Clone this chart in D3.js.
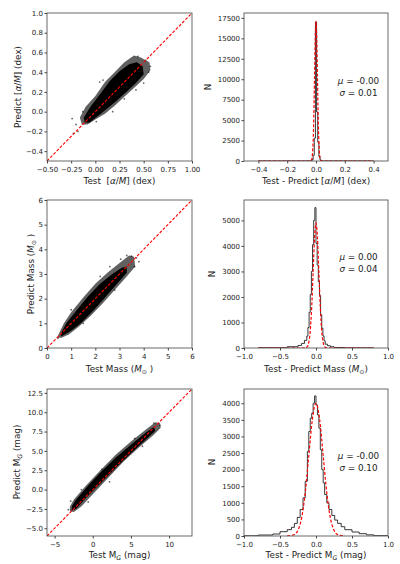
<!DOCTYPE html>
<head>
<meta charset="utf-8">
<style>
body { margin: 0; background: #fff; }
svg text { font-family: "DejaVu Sans", sans-serif; fill: #222; }
.tick text { font-size: 7px; }
.lab { font-size: 8.8px; }
</style>
</head>
<body>
<script src="https://cdn.jsdelivr.net/npm/d3@7/dist/d3.min.js"></script>
<script>

// ---- data ----

// [alpha/M] scatter: outline of the cloud, its dense core, and loose points
var alphaHalo = [[-0.16,-0.06],[-0.1,0.05],[0,0.16],[0.1,0.3],[0.2,0.4],[0.3,0.5],[0.4,0.57],[0.47,0.55],[0.56,0.5],
                 [0.57,0.42],[0.5,0.33],[0.4,0.24],[0.3,0.15],[0.2,0.06],[0.1,-0.02],[0,-0.08],[-0.08,-0.13],[-0.14,-0.13]];
var alphaCore = [[-0.12,-0.06],[-0.05,0.05],[0.05,0.18],[0.15,0.31],[0.25,0.41],[0.35,0.48],[0.43,0.5],[0.49,0.46],
                 [0.5,0.38],[0.42,0.29],[0.32,0.2],[0.22,0.11],[0.12,0.03],[0.02,-0.05],[-0.06,-0.11],[-0.11,-0.11]];
var alphaOut = [[-0.24,-0.07],[-0.226,-0.22],[-0.18,-0.2],[-0.2,-0.13],[0.01,-0.1],[0.18,0.0],[0.045,0.3],[0.08,0.32],
                [0.44,0.56],[0.57,0.46],[0.5,0.29],[0.52,0.52],[0.3,0.13],[-0.13,0.0],[0.42,0.22],[0.55,0.4]];
// [alpha/M] residual histogram (step) and gaussian fit
var alphaEdges = [-0.4,-0.036,-0.028,-0.02,-0.012,-0.004,0.004,0.012,0.02,0.028,0.036,0.044,0.4];
var alphaCounts = [3,40,150,700,2800,17000,6000,2300,550,120,30,3];
var alphaFitX = [-0.4,-0.04,-0.03,-0.02,-0.015,-0.01,-0.005,0,0.005,0.01,0.015,0.02,0.03,0.04,0.4];
var alphaFitY = [0,2,190,2310,5540,10370,15090,17100,15090,10370,5540,2310,190,2,0];

// Mass scatter
var massHalo = [[0.45,0.5],[0.7,1.0],[1.0,1.45],[1.5,2.05],[2.0,2.6],[2.5,3.05],[3.0,3.45],[3.4,3.75],[3.6,3.7],
                [3.65,3.3],[3.3,2.9],[2.8,2.35],[2.3,1.8],[1.8,1.3],[1.3,0.85],[0.9,0.55],[0.6,0.42],[0.45,0.42]];
var massCore = [[0.55,0.55],[0.8,1.0],[1.2,1.5],[1.7,2.1],[2.2,2.6],[2.7,3.0],[3.1,3.25],[3.3,3.3],
                [3.3,3.05],[2.9,2.6],[2.4,2.05],[1.9,1.5],[1.4,1.0],[1.0,0.7],[0.6,0.48]];
var massOut = [[3.7,3.65],[3.5,3.72],[3.62,3.3],[3.8,3.5],[3.3,3.75],[2.2,2.9],[2.8,2.35],[1.0,1.55],[1.5,1.0],[0.45,0.4],[3.05,3.6],[2.6,3.3]];
var massEdges = [-0.8,-0.4,-0.25,-0.2,-0.16,-0.128,-0.112,-0.096,-0.08,-0.064,-0.048,-0.032,-0.016,0,0.016,0.032,0.048,0.064,0.08,0.096,0.112,0.128,0.16,0.2,0.25,0.4,0.8];
var massCounts = [10,50,100,180,300,470,800,1400,2100,3000,4050,5000,5500,4100,3250,2600,2050,1300,780,470,280,150,90,50,20,5];
var massFitX = [-0.8,-0.2,-0.15,-0.12,-0.1,-0.08,-0.06,-0.04,-0.02,0,0.02,0.04,0.06,0.08,0.1,0.12,0.15,0.2,0.8];
var massFitY = [0,0,3,54,215,663,1591,2972,4324,4900,4324,2972,1591,663,215,54,3,0,0];

// M_G scatter
var magHalo = [[-3.0,-2.2],[-2.5,-1.3],[-1.0,0.4],[1,2.5],[3,4.5],[5,6.2],[7,7.8],[8.2,8.7],[8.8,8.6],
               [8.9,8.0],[8,7.1],[6,5.4],[4,3.6],[2,1.5],[0,-0.6],[-1.5,-2.2],[-2.5,-2.9],[-3,-2.8]];
var magCore = [[-2.7,-2.1],[-2.2,-1.3],[-0.8,0.3],[1,2.2],[3,4.1],[5,5.8],[7,7.4],[8,8.1],
               [8.2,7.6],[7,6.5],[5,4.7],[3,2.8],[1,0.8],[-1,-1.2],[-2.2,-2.5],[-2.8,-2.7]];
var magOut = [[-3.2,-2.6],[-2.9,-1.5],[8.8,8.3],[8.0,8.6],[5.5,6.6],[6.5,5.6],[1.2,2.6],[2.2,1.0],[-1.5,0.0],[-0.6,-1.6]];
var magEdges = [-1.0,-0.8,-0.6,-0.5,-0.4,-0.34,-0.3,-0.26,-0.22,-0.18,-0.15,-0.12,-0.1,-0.08,-0.06,-0.04,-0.02,0,0.02,0.04,0.06,0.08,0.1,0.12,0.15,0.18,0.22,0.26,0.3,0.35,0.4,0.5,0.6,0.7,0.8,1.0];
var magCounts = [5,30,60,130,190,260,380,560,800,1150,1650,2550,3150,3550,3700,4000,4220,3950,3650,3250,2600,2000,1600,1250,1000,800,620,480,380,280,190,120,70,35,8];
var magFitX = [-0.4,-0.3,-0.25,-0.2,-0.15,-0.1,-0.05,0,0.05,0.1,0.15,0.2,0.25,0.3,0.4];
var magFitY = [1,45,175,540,1290,2420,3520,4000,3520,2420,1290,540,175,45,1];

// ticks
var alphaXTicks = [-0.5,-0.25,0,0.25,0.5,0.75,1.0], alphaYTicks = [-0.4,-0.2,0,0.2,0.4,0.6,0.8,1.0];
var alphaResXTicks = [-0.4,-0.2,0,0.2,0.4], alphaResYTicks = [0,2500,5000,7500,10000,12500,15000,17500];
var massTicks = [0,1,2,3,4,5,6];
var resXTicks = [-1,-0.5,0,0.5,1], massResYTicks = [0,1000,2000,3000,4000,5000];
var magXTicks = [-5,0,5,10], magYTicks = [-5,-2.5,0,2.5,5,7.5,10,12.5];
var magResYTicks = [0,500,1000,1500,2000,2500,3000,3500,4000];

// fit annotations
var fitMu = ["-0.00","0.00","-0.00"], fitSigma = ["0.01","0.04","0.10"];

// ---- drawing ----
var svg = d3.select("body").append("svg").attr("width", 400).attr("height", 564);
var clipN = 0;

function panel(box, xDom, yDom) {
  var x = d3.scaleLinear().domain(xDom).range([box[0], box[1]]);
  var y = d3.scaleLinear().domain(yDom).range([box[3], box[2]]);
  var id = "clip" + (clipN++);
  svg.append("clipPath").attr("id", id).append("rect")
      .attr("x", box[0]).attr("y", box[2]).attr("width", box[1] - box[0]).attr("height", box[3] - box[2]);
  var plot = svg.append("g").attr("clip-path", "url(#" + id + ")");
  return {x: x, y: y, box: box, plot: plot};
}

function axes(p, xt, xf, yt, yf) {
  svg.append("g").attr("transform", "translate(0," + p.box[3] + ")")
      .call(d3.axisBottom(p.x).tickValues(xt).tickFormat(d3.format(xf)).tickSize(2.5).tickPadding(3.2).tickSizeOuter(0))
      .call(function(g) { g.select(".domain").remove(); g.selectAll("line").attr("stroke", "#444"); });
  svg.append("g").attr("transform", "translate(" + p.box[0] + ",0)")
      .call(d3.axisLeft(p.y).tickValues(yt).tickFormat(d3.format(yf)).tickSize(2.5).tickPadding(1.5).tickSizeOuter(0))
      .call(function(g) { g.select(".domain").remove(); g.selectAll("line").attr("stroke", "#444"); });
  svg.append("rect").attr("x", p.box[0]).attr("y", p.box[2])
      .attr("width", p.box[1] - p.box[0]).attr("height", p.box[3] - p.box[2])
      .attr("fill", "none").attr("stroke", "#444").attr("stroke-width", 0.8);
}

function scatter(p, halo, core, out, dom) {
  var line = d3.line().x(function(d) { return p.x(d[0]); }).y(function(d) { return p.y(d[1]); })
      .curve(d3.curveLinearClosed);
  p.plot.append("path").attr("d", line(halo)).attr("fill", "#000").attr("fill-opacity", 0.62);
  p.plot.append("path").attr("d", line(core)).attr("fill", "#000");
  p.plot.selectAll(null).data(out).enter().append("circle")
      .attr("cx", function(d) { return p.x(d[0]); }).attr("cy", function(d) { return p.y(d[1]); })
      .attr("r", 0.9).attr("fill", "#000").attr("fill-opacity", 0.6);
  p.plot.append("path").attr("d", d3.line()([[p.x(dom[0]), p.y(dom[0])], [p.x(dom[1]), p.y(dom[1])]]))
      .attr("stroke", "red").attr("stroke-width", 1.1).attr("stroke-dasharray", "3,1.6").attr("fill", "none");
}

function hist(p, edges, counts, fx, fy) {
  var pts = counts.map(function(c, i) { return [edges[i], c]; });
  pts.push([edges[edges.length - 1], counts[counts.length - 1]]);
  pts.unshift([edges[0], 0]);
  pts.push([edges[edges.length - 1], 0]);
  p.plot.append("path")
      .attr("d", d3.line().x(function(d) { return p.x(d[0]); }).y(function(d) { return p.y(d[1]); }).curve(d3.curveStepAfter)(pts))
      .attr("fill", "none").attr("stroke", "#222").attr("stroke-width", 0.9);
  var fit = fx.map(function(v, i) { return [v, fy[i]]; });
  p.plot.append("path")
      .attr("d", d3.line().x(function(d) { return p.x(d[0]); }).y(function(d) { return p.y(d[1]); }).curve(d3.curveMonotoneX)(fit))
      .attr("fill", "none").attr("stroke", "red").attr("stroke-width", 1.2).attr("stroke-dasharray", "3,1.8");
}

// text with italic / subscript pieces: parts = [[text, "i"|"sub"|""], ...]
function label(x, y, rot, parts) {
  var t = svg.append("text").attr("class", "lab").attr("text-anchor", "middle").style("white-space", "pre")
      .attr("transform", "translate(" + x + "," + y + ")" + (rot ? " rotate(-90)" : ""));
  var shifted = false;
  parts.forEach(function(q) {
    var s = t.append("tspan").text(q[0]);
    if (q[1] == "i") s.style("font-style", "italic");
    if (q[1] == "sub") { s.attr("dy", 2).style("font-size", "6.2px").style("font-style", "italic"); shifted = true; }
    else if (shifted) { s.attr("dy", -2); shifted = false; }
  });
}

function fitText(mu, sig, cy) {
  label(358.5, cy, false, [["μ", "i"], [" = " + mu, ""]]);
  label(358.5, cy + 11.5, false, [["σ", "i"], [" = " + sig, ""]]);
}

var L = [47, 192], R = [244, 388];
var rows = [[13, 161], [200, 348], [389, 536]];

// row 1
var p1 = panel(L.concat(rows[0]), [-0.5, 1.0], [-0.5, 1.0]);
scatter(p1, alphaHalo, alphaCore, alphaOut, [-0.5, 1.0]);
axes(p1, alphaXTicks, ".2f", alphaYTicks, ".1f");
var p2 = panel(R.concat(rows[0]), [-0.5, 0.5], [0, 18100]);
hist(p2, alphaEdges, alphaCounts, alphaFitX, alphaFitY);
axes(p2, alphaResXTicks, ".1f", alphaResYTicks, "d");

// row 2
var p3 = panel(L.concat(rows[1]), [0, 6], [0, 6]);
scatter(p3, massHalo, massCore, massOut, [0, 6]);
axes(p3, massTicks, "d", massTicks, "d");
var p4 = panel(R.concat(rows[1]), [-1, 1], [0, 5800]);
hist(p4, massEdges, massCounts, massFitX, massFitY);
axes(p4, resXTicks, ".1f", massResYTicks, "d");

// row 3
var p5 = panel(L.concat(rows[2]), [-6, 13], [-6, 13]);
scatter(p5, magHalo, magCore, magOut, [-6, 13]);
axes(p5, magXTicks, "d", magYTicks, ".1f");
var p6 = panel(R.concat(rows[2]), [-1, 1], [0, 4430]);
hist(p6, magEdges, magCounts, magFitX, magFitY);
axes(p6, resXTicks, ".1f", magResYTicks, "d");

// axis titles
label(119.5, 184, false, [["Test  [", ""], ["α", "i"], ["/", ""], ["M", "i"], ["] (dex)", ""]]);
label(20.5, 87, true, [["Predict [", ""], ["α", "i"], ["/", ""], ["M", "i"], ["] (dex)", ""]]);
label(316, 184, false, [["Test - Predict [", ""], ["α", "i"], ["/", ""], ["M", "i"], ["] (dex)", ""]]);
label(211, 87, true, [["N", ""]]);

label(119.5, 372, false, [["Test Mass (", ""], ["M", "i"], ["⊙", "sub"], [" )", ""]]);
label(33.5, 274, true, [["Predict Mass (", ""], ["M", "i"], ["⊙", "sub"], [" )", ""]]);
label(316, 372, false, [["Test - Predict Mass (", ""], ["M", "i"], ["⊙", "sub"], [")", ""]]);
label(215, 274, true, [["N", ""]]);

label(119.5, 558, false, [["Test M", ""], ["G", "sub"], [" (mag)", ""]]);
label(19.5, 462, true, [["Predict M", ""], ["G", "sub"], [" (mag)", ""]]);
label(316, 558, false, [["Test - Predict M", ""], ["G", "sub"], [" (mag)", ""]]);
label(215, 462, true, [["N", ""]]);

fitText(fitMu[0], fitSigma[0], 84);
fitText(fitMu[1], fitSigma[1], 260);
fitText(fitMu[2], fitSigma[2], 459);

</script>
</body>
